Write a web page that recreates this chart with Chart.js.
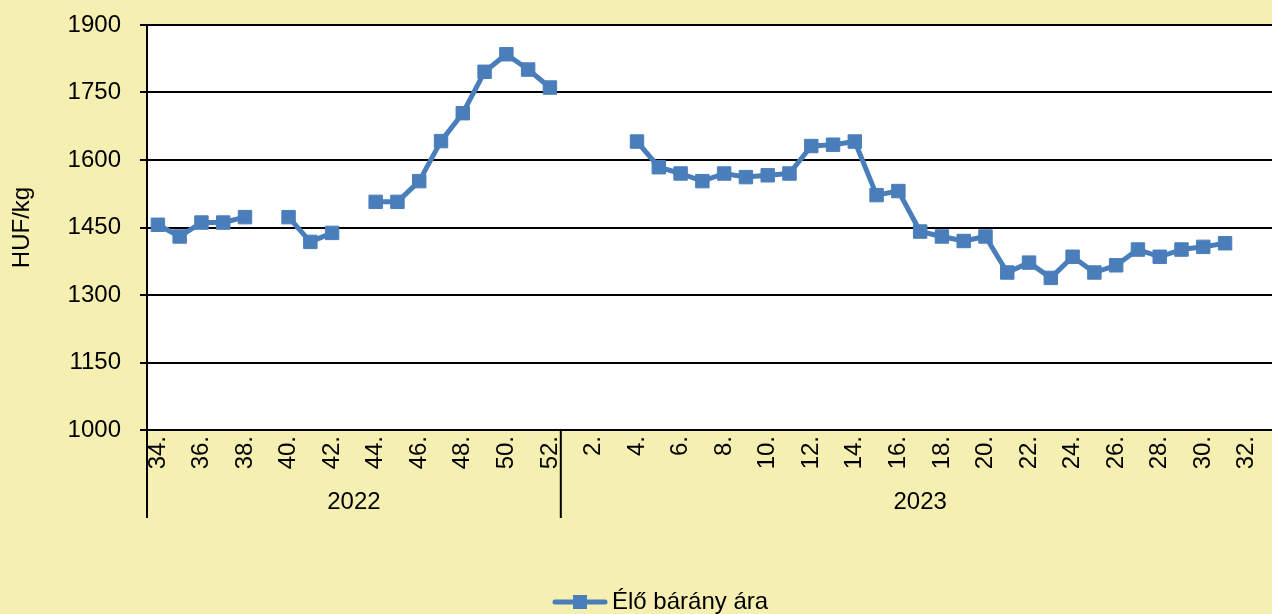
<!DOCTYPE html>
<html>
<head>
<meta charset="utf-8">
<script src="https://cdn.jsdelivr.net/npm/chart.js@4.4.0/dist/chart.umd.min.js"></script>
<style>
  html, body { margin: 0; padding: 0; overflow: hidden; background: #F5EFB2; }
  #wrap { width: 1290px; height: 614px; }
</style>
</head>
<body>
<div id="wrap"><canvas id="chart" width="1290" height="614"></canvas></div>
<script>
// weekly price of live lamb, HUF/kg
const weeks2022 = [34, 35, 36, 37, 38, 39, 40, 41, 42, 43, 44, 45, 46, 47, 48, 49, 50, 51, 52];
const weeks2023 = [1, 2, 3, 4, 5, 6, 7, 8, 9, 10, 11, 12, 13, 14, 15, 16, 17, 18, 19, 20,
                   21, 22, 23, 24, 25, 26, 27, 28, 29, 30, 31, 32, 33];
const prices2022 = [1456, 1430, 1461, 1461, 1473, null, 1473, 1418, 1438, null,
                    1507, 1507, 1553, 1642, 1704, 1796, 1835, 1801, 1761];
const prices2023 = [null, null, null, 1641, 1584, 1570, 1553, 1570, 1562, 1566,
                    1570, 1631, 1634, 1641, 1522, 1531, 1441, 1430, 1420, 1430,
                    1350, 1372, 1338, 1385, 1350, 1366, 1401, 1385, 1401, 1407,
                    1415, null, null];
const years = ['2022', '2023'];
const seriesName = 'Élő bárány ára';
const yMin = 1000, yMax = 1900, yStep = 150;

const lineColor = '#4A7EBB';
const FONT = { family: "'Liberation Sans', Arial, sans-serif", size: 24 };
const fontStr = "24px 'Liberation Sans', Arial, sans-serif";

const weekLabels = weeks2022.concat(weeks2023).map(w => w + '.');
const prices = prices2022.concat(prices2023);

const frame = {
    id: 'frame',
    beforeDraw(chart) {
        const { ctx, chartArea: a } = chart;
        ctx.save();
        ctx.fillStyle = '#F5EFB2';
        ctx.fillRect(0, 0, chart.width, chart.height);
        ctx.fillStyle = '#ffffff';
        ctx.fillRect(a.left, a.top, a.right - a.left, a.bottom - a.top);
        ctx.restore();
    },
    afterDraw(chart) {
        const { ctx, chartArea: a } = chart;
        const x = chart.scales.x;
        const n22 = weeks2022.length;
        const split = (x.getPixelForTick(n22 - 1) + x.getPixelForTick(n22)) / 2;

        ctx.save();
        // year group dividers below the axis
        ctx.strokeStyle = '#000';
        ctx.lineWidth = 2;
        [a.left, split, a.right].forEach(px => {
            ctx.beginPath();
            ctx.moveTo(px, a.bottom);
            ctx.lineTo(px, 518);
            ctx.stroke();
        });

        // year labels
        ctx.fillStyle = '#000';
        ctx.font = fontStr;
        ctx.textAlign = 'center';
        ctx.textBaseline = 'middle';
        ctx.fillText(years[0], (x.getPixelForTick(0) + x.getPixelForTick(n22 - 1)) / 2, 502);
        ctx.fillText(years[1], (x.getPixelForTick(n22) + x.getPixelForTick(weekLabels.length - 1)) / 2, 502);

        // legend
        const ly = 602;
        ctx.strokeStyle = lineColor;
        ctx.lineWidth = 5;
        ctx.lineCap = 'round';
        ctx.beginPath();
        ctx.moveTo(555, ly);
        ctx.lineTo(605, ly);
        ctx.stroke();
        ctx.fillStyle = lineColor;
        ctx.fillRect(573, ly - 7, 14, 14);
        ctx.fillStyle = '#000';
        ctx.textAlign = 'left';
        ctx.fillText(chart.data.datasets[0].label, 612, ly);
        ctx.restore();
    }
};

new Chart(document.getElementById('chart'), {
    type: 'line',
    data: {
        labels: weekLabels,
        datasets: [{
            label: seriesName,
            data: prices,
            borderColor: lineColor,
            backgroundColor: lineColor,
            borderWidth: 5,
            borderJoinStyle: 'round',
            borderCapStyle: 'round',
            pointStyle: 'rect',
            pointRadius: 9.5,
            pointHoverRadius: 9.5,
            pointBorderWidth: 1,
            pointBackgroundColor: lineColor,
            pointBorderColor: lineColor,
            spanGaps: false,
            tension: 0
        }]
    },
    options: {
        responsive: false,
        animation: false,
        layout: { padding: { top: 25, right: 4.7, left: 0, bottom: 0 } },
        plugins: {
            legend: { display: false },
            tooltip: { enabled: false }
        },
        scales: {
            x: {
                offset: true,
                grid: { display: true, drawOnChartArea: false, drawTicks: false, offset: true },
                border: { display: true, color: '#000', width: 2 },
                ticks: {
                    autoSkip: false,
                    minRotation: 90,
                    maxRotation: 90,
                    padding: 6,
                    color: '#000',
                    font: FONT,
                    callback: (v, i) => (i % 2 === 0 ? weekLabels[i] : '')
                },
                afterFit: s => {
                    s.height = 184;
                    s.paddingLeft = 0;
                    s.paddingRight = 0;
                }
            },
            y: {
                min: yMin,
                max: yMax,
                ticks: {
                    stepSize: yStep,
                    padding: 19,
                    color: '#000',
                    font: FONT,
                    callback: v => String(v)
                },
                grid: { color: '#000', lineWidth: 2, tickLength: 7 },
                border: { color: '#000', width: 2 },
                title: {
                    display: true,
                    text: 'HUF/kg',
                    color: '#000',
                    font: FONT,
                    padding: { top: 8, bottom: 0 }
                },
                afterFit: s => {
                    s.width = 147;
                    s.paddingTop = 0;
                    s.paddingBottom = 0;
                }
            }
        }
    },
    plugins: [frame]
});
</script>
</body>
</html>
